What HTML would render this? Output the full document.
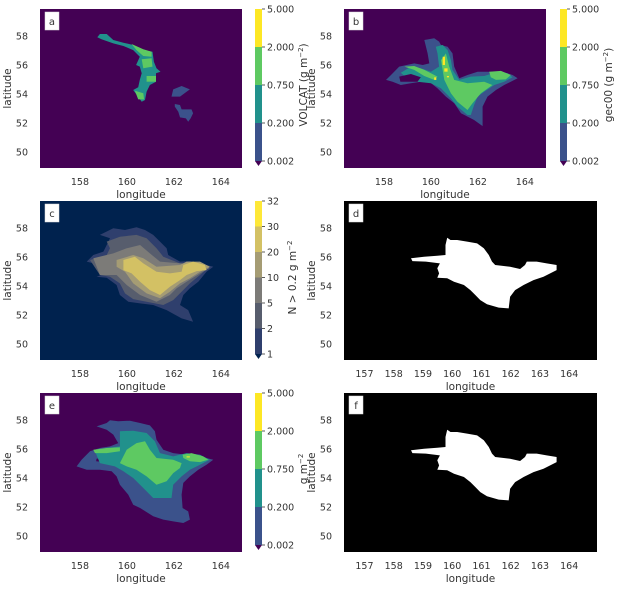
<!DOCTYPE html>
<html><head><meta charset="utf-8">
<style>
html,body{margin:0;padding:0;background:#fff;}
svg{display:block;font-family:"DejaVu Sans","Liberation Sans",sans-serif;}
</style></head>
<body>
<svg id="fig" width="622" height="589" viewBox="0 0 622 589" xmlns="http://www.w3.org/2000/svg"></svg>
<script>
// ---------- DATA (lon / lat outlines of concentration regions) ----------
const latTicks=[50,52,54,56,58];
const lonTicksWide=[158,160,162,164];
const lonTicksMask=[157,158,159,160,161,162,163,164];
const concLevels=["5.000","2.000","0.750","0.200","0.002"];
const countLevels=["32","30","20","10","5","2","1"];

// panel a (VOLCAT)
const aArcLon=[158.85,159.14,159.42,159.85,160.27,160.70,161.09,161.15,161.26,161.43,161.24,161.24,160.98,160.84,160.77,160.63,160.27,160.48,160.55,160.63,160.55,160.39,160.55,160.27,159.85,159.42,158.92,158.74];
const aArcLat=[58.14,58.14,57.72,57.54,57.38,57.03,56.92,56.23,55.77,55.54,55.43,54.85,54.62,54.16,53.59,53.47,54.28,54.46,54.97,55.43,55.89,56.00,56.57,57.03,57.31,57.49,57.77,57.91];
const aG1Lon=[160.20,160.70,161.05,161.05,160.70,160.41];
const aG1Lat=[57.45,57.08,56.92,56.57,56.62,57.03];
const aG2Lon=[160.63,161.05,161.09,160.70];
const aG2Lat=[56.39,56.46,55.89,55.77];
const aG3Lon=[160.84,161.24,161.24,160.84];
const aG3Lat=[55.24,55.24,54.85,54.85];
const aG4Lon=[160.34,160.70,160.73,160.48];
const aG4Lat=[54.23,54.05,53.63,53.63];
const aP1Lon=[161.97,162.33,162.68,162.54,162.26,161.90];
const aP1Lat=[54.32,54.55,54.32,54.16,53.82,53.82];
const aP2Lon=[162.04,162.26,162.33,162.75,162.82,162.71,162.61,162.51,162.26,162.19,162.04];
const aP2Lat=[53.31,53.24,52.94,52.94,52.67,52.32,52.09,52.32,52.39,52.78,53.13];

// panel b (gec00)
const bOutLon=[159.72,160.14,160.35,160.43,160.71,160.92,160.99,161.21,161.56,161.99,162.55,163.05,163.48,163.69,163.40,163.12,162.77,162.41,162.20,162.20,161.84,161.28,160.99,160.64,160.28,159.93,159.57,159.15,158.72,158.37,158.09,158.30,158.65,159.29,159.65,159.93,159.86];
const bOutLat=[57.72,57.84,57.61,57.38,57.26,56.80,55.89,55.08,55.31,55.54,55.54,55.54,55.31,55.08,54.85,54.62,54.28,53.82,53.13,51.79,52.21,52.67,53.36,53.82,54.39,54.85,54.85,54.74,54.62,54.85,54.97,55.31,55.89,56.11,56.00,56.11,56.80];
const bTealLon=[160.21,160.50,160.71,160.85,160.92,161.21,161.70,162.27,162.84,163.26,163.48,163.12,162.70,162.27,161.99,161.84,161.70,161.56,161.13,160.85,160.43,160.00,159.43,158.87,158.72,159.15,159.57,160.00,160.35,160.28];
const bTealLat=[57.26,57.38,57.03,56.34,55.66,54.97,55.20,55.24,55.54,55.43,55.15,54.85,54.62,54.16,53.82,53.24,52.55,52.55,53.13,53.70,54.39,54.74,54.85,55.24,55.47,55.89,55.77,55.54,55.89,56.80];
const bHoleLon=[158.65,159.15,159.57,159.43,159.01,158.70];
const bHoleLat=[55.20,55.38,55.15,54.85,54.85,54.85];
const bGreenLon=[160.64,160.78,160.99,161.56,162.27,162.62,162.13,161.77,161.56,161.13,160.85,160.57,160.43];
const bGreenLat=[56.80,55.89,54.97,54.74,54.85,54.62,54.05,53.36,52.90,53.47,54.05,54.97,56.34];
const bGreenRLon=[162.48,162.98,163.40,163.19,162.77,162.55];
const bGreenRLat=[55.54,55.59,55.31,55.01,54.97,55.15];
const bGreenLLon=[158.87,159.29,159.72,160.28,160.14,159.72,159.29];
const bGreenLLat=[55.89,55.93,55.66,55.20,54.97,55.24,55.66];
const bYelLon0=[160.50,160.57,160.68,160.14];
const bYelLon1=[160.60,160.71,160.77,160.23];
const bYelLat0=[56.57,55.77,55.24,55.15];
const bYelLat1=[56.00,55.54,55.15,54.97];

// panel c (ensemble count)
const c1Lon=[158.85,159.42,159.92,160.41,160.77,161.12,161.41,161.69,161.76,162.26,162.68,163.11,163.68,163.39,163.04,162.68,162.40,162.26,162.61,162.82,162.33,161.69,161.12,160.56,160.06,159.70,159.56,159.14,158.71,159.28,158.85,158.29,158.57,159.00,159.14,159.28];
const c1Lat=[57.52,57.98,57.86,58.05,57.86,57.52,57.06,56.60,56.14,55.68,55.72,55.56,55.33,54.99,54.30,53.84,53.38,52.69,52.34,51.54,51.77,52.34,52.69,52.80,52.92,53.38,54.07,54.57,54.64,54.99,55.45,55.68,56.14,56.37,56.83,57.29];
const c2Lon=[159.14,159.70,160.41,160.84,161.26,161.55,162.26,163.11,163.46,163.11,162.68,162.33,161.97,161.55,160.84,160.27,159.92,159.70,159.28,158.85,158.43,159.14,159.28];
const c2Lat=[57.06,57.40,57.52,57.29,56.60,56.02,55.56,55.45,55.26,54.76,54.18,53.61,53.03,52.69,52.92,53.10,53.49,54.18,54.64,54.76,55.79,56.14,56.60];
const c3Lon=[159.42,159.99,160.56,160.98,161.41,162.26,163.11,163.53,163.11,162.54,162.12,161.83,161.26,160.56,159.99,159.56,158.85,158.57];
const c3Lat=[56.25,56.60,56.83,56.25,55.68,55.56,55.56,55.26,54.87,54.30,53.84,53.38,52.92,53.38,54.07,54.76,54.76,55.91];
const c4Lon=[159.56,160.27,160.70,161.26,162.26,162.54,163.11,163.53,163.11,162.68,162.26,161.83,161.41,160.84,160.27,159.92,159.56];
const c4Lat=[55.79,56.14,55.91,55.33,55.45,55.68,55.68,55.33,54.99,54.53,54.18,53.61,53.15,53.49,54.18,54.99,55.33];
const c5Lon=[159.85,160.34,160.70,161.26,161.83,162.33,162.40,162.82,163.32,163.39,162.97,162.54,162.26,161.83,161.41,160.98,160.56,160.20,159.85];
const c5Lat=[55.79,56.02,55.56,54.99,54.87,54.99,55.45,55.68,55.45,55.10,55.03,54.76,54.41,53.95,53.38,53.72,54.30,54.87,55.10];

// panel e (ensemble mean)
const eOutLon=[158.71,159.14,159.28,159.63,160.13,160.56,160.98,161.19,161.26,161.55,161.97,162.54,163.11,163.68,163.39,163.04,162.68,162.40,162.33,162.37,162.61,162.68,162.40,161.97,161.55,161.12,160.56,160.27,160.06,159.70,159.56,159.35,158.85,158.29,157.86,158.07,158.43,158.85,159.28,159.63,159.42,159.14];
const eOutLat=[57.56,57.79,57.98,57.91,57.95,57.79,57.63,57.22,56.64,55.95,55.72,55.61,55.49,55.26,54.92,54.57,54.11,53.66,52.85,51.93,51.70,51.13,50.90,51.01,51.13,51.36,51.93,52.16,52.85,53.54,54.11,54.46,54.57,54.57,54.80,55.26,55.84,56.07,56.18,56.41,56.99,57.33];
const eHoleLon=[158.71,159.14,159.11,158.69];
const eHoleLat=[55.33,55.43,55.10,55.15];
const eTealLon=[159.70,160.27,160.84,161.19,161.41,161.97,162.54,163.11,163.53,163.11,162.68,162.33,161.97,161.90,161.12,160.70,160.27,159.85,159.49,158.85,158.64,159.14,159.70];
const eTealLat=[57.22,57.26,57.10,56.53,55.72,55.49,55.72,55.61,55.26,54.92,54.57,54.11,53.54,52.62,52.62,53.31,54.00,54.46,54.80,55.03,55.84,56.07,56.18];
const eGreenLon=[159.99,160.41,160.77,160.98,161.26,161.97,162.33,162.26,161.97,161.69,161.26,160.84,160.41,159.99,159.70];
const eGreenLat=[55.95,56.41,56.53,55.95,55.38,55.26,55.03,54.69,54.34,53.77,53.54,54.11,54.57,54.80,55.03];
const eGreenRLon=[162.37,162.75,163.25,163.46,163.11,162.68,162.40];
const eGreenRLat=[55.61,55.72,55.49,55.26,55.10,55.15,55.38];
const eGreenLLon=[158.57,159.14,159.70,159.70,159.14,158.64];
const eGreenLLat=[55.95,56.07,56.11,55.84,55.72,55.72];
const eYelLon=[162.54,162.68];
const eYelLat=[55.49,55.43];

// panels d/f (binary mask)
const maskLon=[158.59,159.04,159.49,159.77,159.77,159.83,159.94,160.17,160.51,160.85,161.08,161.25,161.36,161.47,161.98,162.32,162.49,162.55,162.89,163.23,163.57,163.57,163.12,162.78,162.44,162.15,161.98,161.93,161.59,161.19,160.96,160.79,160.62,160.40,160.06,159.83,159.49,159.55,159.49,159.58,159.10,158.64];
const maskLat=[55.91,56.02,56.09,56.14,56.83,57.33,57.17,57.17,57.06,56.94,56.60,56.14,55.68,55.45,55.33,55.17,55.45,55.68,55.68,55.56,55.45,55.10,54.64,54.41,54.07,53.72,53.26,52.46,52.51,52.74,53.03,53.38,53.72,54.07,54.30,54.53,54.57,54.87,55.22,55.56,55.68,55.72];

// ---------- RENDERING ----------
const NS="http://www.w3.org/2000/svg";
const fig=document.getElementById('fig');
const TXT="#333";
const VIR=["#fde725","#5ec962","#21918c","#3b528b"];
const VBG="#440154";
const CIV=["#fee838","#d3c164","#a59c74","#7c7b78","#575d6d","#2f3f6d"];
const CBG="#00224e";
function mk(tag,attrs,parent){const e=document.createElementNS(NS,tag);for(const k in attrs)e.setAttribute(k,attrs[k]);(parent||fig).appendChild(e);return e;}
function txt(s,x,y,anchor,size,parent,rot){const t=mk('text',{x:x,y:y,'text-anchor':anchor,'font-size':size,fill:TXT},parent);if(rot)t.setAttribute('transform','rotate(-90 '+x+' '+y+')');t.textContent=s;return t;}

function makeAxes(name,x0,x1,y0,y1,lonTicks,bg,letter){
  const g=mk('g',{});
  
  
  const lonMin=156.3,lonMax=(x1-x0>220)?164.95:164.9,latMin=48.9,latMax=59.86;
  const sx=v=>x0+(v-lonMin)/(lonMax-lonMin)*(x1-x0);
  const sy=v=>y1-(v-latMin)/(latMax-latMin)*(y1-y0);
  const clipId='clip-'+name;
  const cp=mk('clipPath',{id:clipId},g);mk('rect',{x:x0,y:y0,width:x1-x0,height:y1-y0},cp);
  const bgr=mk('rect',{x:x0,y:y0,width:x1-x0,height:y1-y0,fill:bg},g);
  
  
  const layer=mk('g',{'clip-path':'url(#'+clipId+')'},g);
  
  
  for(const v of latTicks){const t=txt(String(v),x0-12,sy(v)+3.5,'end',9.5,g);
    
    }
  for(const v of lonTicks){const t=txt(String(v),sx(v),y1+17,'middle',9.5,g);
    
    }
  const xl=txt('longitude',(x0+x1)/2,y1+30,'middle',10.5,g);
  
  
  const yl=txt('latitude',x0-29,(y0+y1)/2,'middle',10.5,g,true);
  
  
  const lb=mk('rect',{x:x0+5,y:y0+3,width:14,height:18,fill:'#fff',stroke:'#ddd','stroke-width':0.5},g);
  
  
  const lt=txt(letter,x0+12,y0+16,'middle',10,g);
  
  
  return {layer,sx,sy};
}
function poly(ax,lons,lats,fill,name){
  const pts=lons.map((v,i)=>ax.sx(v).toFixed(1)+','+ax.sy(lats[i]).toFixed(1)).join(' ');
  const p=mk('polygon',{points:pts,fill:fill},ax.layer);
  
  
  return p;
}
function rectLL(ax,lo0,lo1,la0,la1,fill,name){
  const r=mk('rect',{x:ax.sx(lo0),y:ax.sy(la0),width:Math.max(1,ax.sx(lo1)-ax.sx(lo0)),height:Math.max(1,ax.sy(la1)-ax.sy(la0)),fill:fill},ax.layer);
  
  
}
function colorbar(name,x,y0,y1,cols,labels,under,title,titleX){
  const g=mk('g',{});
  
  
  const n=cols.length,h=(y1-y0)/n;
  cols.forEach((c,i)=>{const r=mk('rect',{x:x,y:y0+i*h,width:7,height:h+0.3,fill:c},g);
    
    });
  const tri=mk('polygon',{points:(x)+','+y1+' '+(x+7)+','+y1+' '+(x+3.5)+','+(y1+5),fill:under},g);
  
  
  labels.forEach((s,i)=>{const yy=y0+i*h;
    mk('line',{x1:x+7,x2:x+10,y1:yy,y2:yy,stroke:TXT,'stroke-width':0.8},g);
    const t=txt(s,x+12,yy+3.5,'start',9.5,g);
    
    });
  const tt=mk('text',{x:titleX,y:(y0+y1)/2,'text-anchor':'middle','font-size':10.5,fill:TXT,transform:'rotate(-90 '+titleX+' '+((y0+y1)/2)+')'},g);
  
  
  tt.innerHTML=title;
}

// Panel a
const A=makeAxes('panel-a',40,242,9,168,lonTicksWide,VBG,'a');
poly(A,aArcLon,aArcLat,VIR[2],'volcat-arc');
[[aG1Lon,aG1Lat],[aG2Lon,aG2Lat],[aG3Lon,aG3Lat],[aG4Lon,aG4Lat]].forEach(p=>poly(A,p[0],p[1],VIR[1],'volcat-high'));
poly(A,aP1Lon,aP1Lat,VIR[3],'volcat-patch-north');
poly(A,aP2Lon,aP2Lat,VIR[3],'volcat-patch-south');
colorbar('colorbar-a',255,9,161,VIR,concLevels,VBG,'VOLCAT (g m<tspan baseline-shift="super" font-size="7">−2</tspan>)',307);

// Panel b
const B=makeAxes('panel-b',344,546,9,168,lonTicksWide,VBG,'b');
poly(B,bOutLon,bOutLat,VIR[3],'gec00-outer');
poly(B,bTealLon,bTealLat,VIR[2],'gec00-mid');
poly(B,bHoleLon,bHoleLat,VBG,'gec00-hole');
poly(B,bGreenLon,bGreenLat,VIR[1],'gec00-core');
poly(B,bGreenRLon,bGreenRLat,VIR[1],'gec00-east-lobe');
poly(B,bGreenLLon,bGreenLLat,VIR[1],'gec00-west-strip');
bYelLon0.forEach((v,i)=>rectLL(B,v,bYelLon1[i],bYelLat0[i],bYelLat1[i],VIR[0],'gec00-peak'));
colorbar('colorbar-b',560,9,161,VIR,concLevels,VBG,'gec00 (g m<tspan baseline-shift="super" font-size="7">−2</tspan>)',612);

// Panel c
const C=makeAxes('panel-c',40,242,201,360,lonTicksWide,CBG,'c');
poly(C,c1Lon,c1Lat,CIV[5],'count-1-2');
poly(C,c2Lon,c2Lat,CIV[4],'count-2-5');
poly(C,c3Lon,c3Lat,CIV[3],'count-5-10');
poly(C,c4Lon,c4Lat,CIV[2],'count-10-20');
poly(C,c5Lon,c5Lat,CIV[1],'count-20-30');
colorbar('colorbar-c',255,201,354,CIV,countLevels,CBG,'N &gt; 0.2 g m<tspan baseline-shift="super" font-size="7">−2</tspan>',296);

// Panel d
const D=makeAxes('panel-d',344,597,201,360,lonTicksMask,'#000','d');
poly(D,maskLon,maskLat,'#fff','mask-region');

// Panel e
const E=makeAxes('panel-e',40,242,393,552,lonTicksWide,VBG,'e');
poly(E,eOutLon,eOutLat,VIR[3],'mean-outer');
poly(E,eHoleLon,eHoleLat,VBG,'mean-hole');
poly(E,eTealLon,eTealLat,VIR[2],'mean-mid');
poly(E,eGreenLon,eGreenLat,VIR[1],'mean-core');
poly(E,eGreenRLon,eGreenRLat,VIR[1],'mean-east-lobe');
poly(E,eGreenLLon,eGreenLLat,VIR[1],'mean-west-strip');
rectLL(E,eYelLon[0],eYelLon[1],eYelLat[0],eYelLat[1],VIR[0],'mean-peak');
colorbar('colorbar-e',255,393,545,VIR,concLevels,VBG,'g m<tspan baseline-shift="super" font-size="7">−2</tspan>',307);

// Panel f
const F=makeAxes('panel-f',344,597,393,552,lonTicksMask,'#000','f');
poly(F,maskLon,maskLat,'#fff','mask-region');
</script>
</body></html>
